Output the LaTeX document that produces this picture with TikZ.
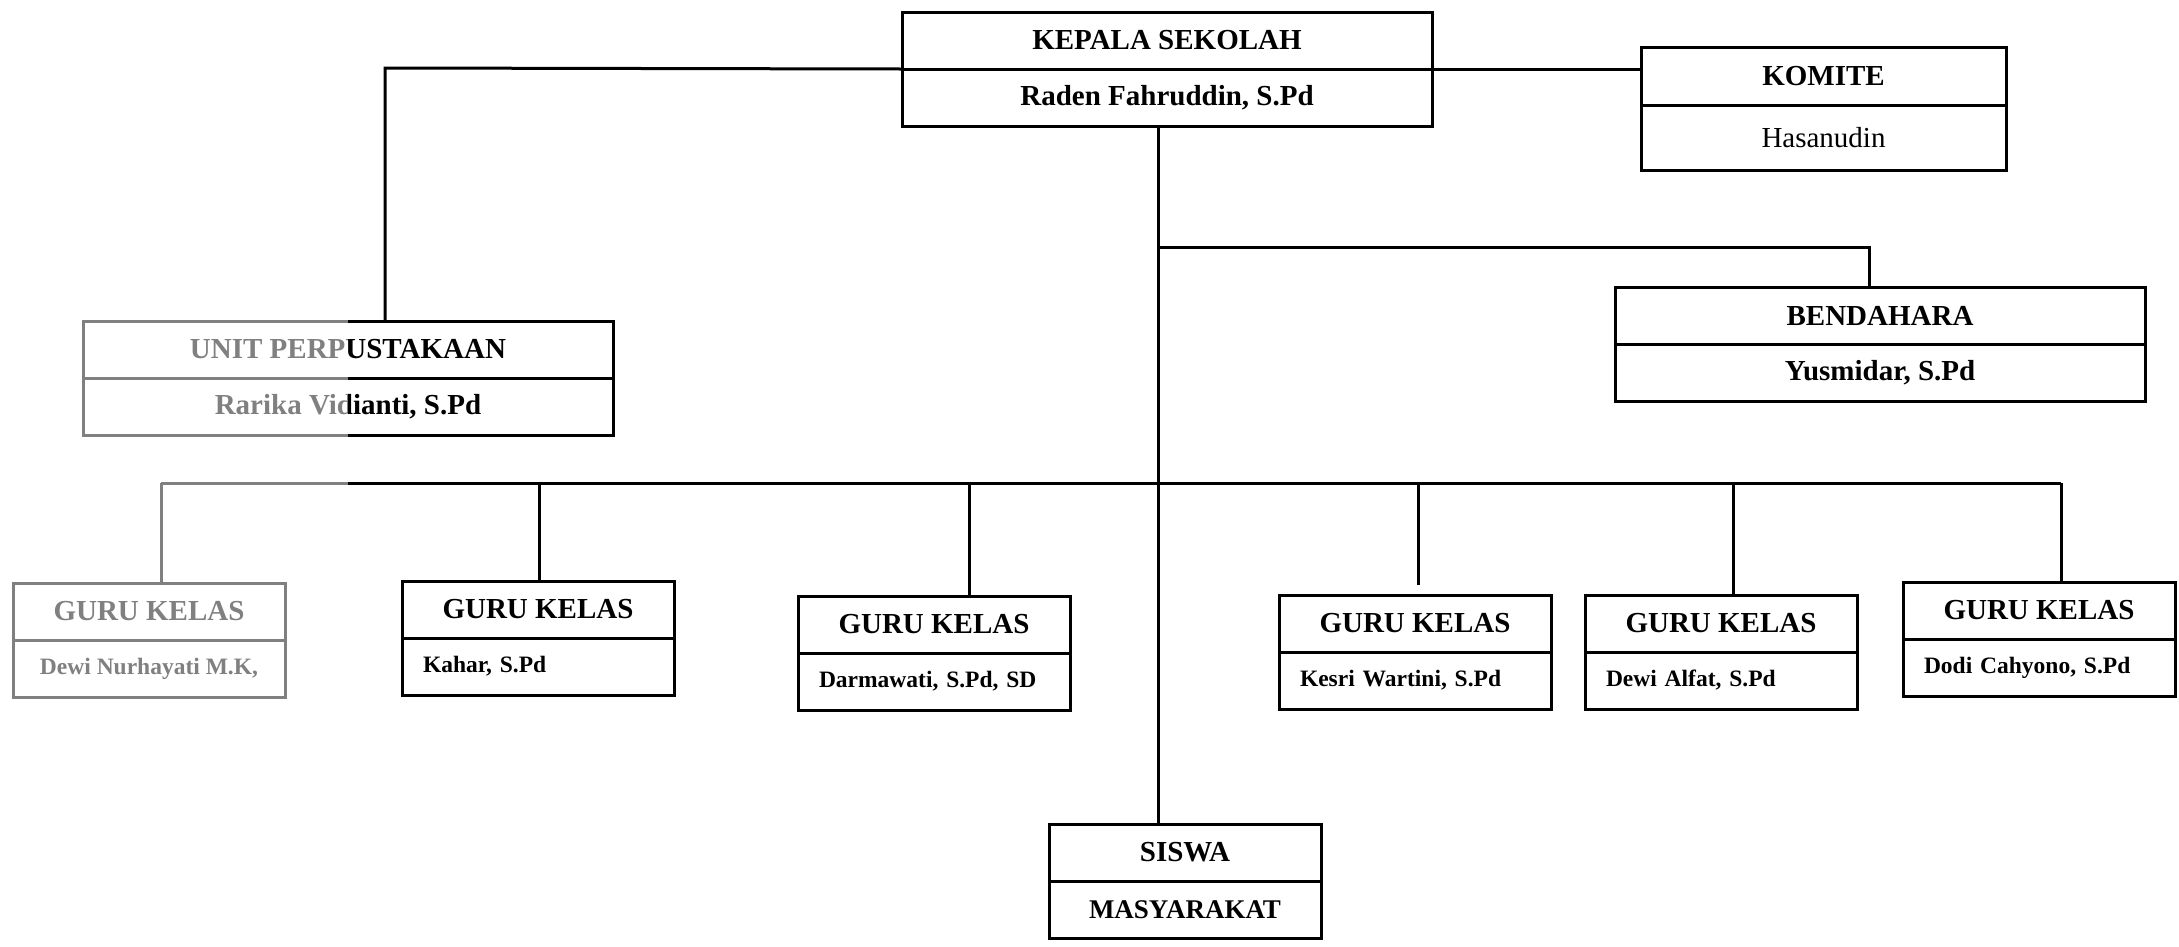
\documentclass[tikz,border=0pt]{standalone}
\usepackage{fontspec}
\setmainfont{Liberation Serif}
\usetikzlibrary{
    positioning     % tikz's library for relative placement of nodes
}
\newcommand{\orgheadfont}{\fontsize{29}{33}\selectfont\bfseries}
\newcommand{\orgsmallfont}{\fontsize{23.5}{27}\selectfont\bfseries}
\tikzset{
    title box/.style={draw, line width=3pt, outer sep=0pt, inner sep=0pt,
        minimum height=57pt, anchor=north west, font=\orgheadfont},
    name box/.style={draw, line width=3pt, outer sep=0pt, inner sep=0pt,
        minimum height=57pt, font=\orgheadfont},
    wide box/.style={minimum width=530pt},
    narrow box/.style={minimum width=272pt},
    guru name/.style={name box, font=\orgsmallfont, align=left,
        text width=230pt, inner xsep=21pt},
    org line/.style={line width=3pt}
}

\begin{document}
\begin{tikzpicture}[x=1pt, y=-1pt]
        \useasboundingbox (0,0) rectangle (2179,946);

        % kepala sekolah
        \node[title box, wide box] (kepala) at (902,12) {KEPALA SEKOLAH};
        \node[name box, wide box, below=0pt of kepala] (kepalaNama) {Raden Fahruddin, S.Pd};

        % komite
        \node[title box, minimum width=365pt, minimum height=58pt] (komite) at (1641,47) {KOMITE};
        \node[name box, minimum width=365pt, minimum height=65pt,
            font=\orgheadfont\mdseries, below=0pt of komite] (komiteNama) {Hasanudin};

        % unit perpustakaan
        \node[title box, wide box] (unit) at (83,321) {UNIT PERPUSTAKAAN};
        \node[name box, wide box, below=0pt of unit] (unitNama) {Rarika Vidianti, S.Pd};

        % bendahara
        \node[title box, wide box] (bendahara) at (1615,287) {BENDAHARA};
        \node[name box, wide box, below=0pt of bendahara] (bendaharaNama) {Yusmidar, S.Pd};

        % guru kelas
        \node[title box, narrow box] (guruA) at (13,583) {GURU KELAS};
        \node[name box, narrow box, font=\orgsmallfont, below=0pt of guruA] (guruANama) {Dewi Nurhayati M.K,};
        \node[title box, narrow box] (guruB) at (402,581) {GURU KELAS};
        \node[guru name, below=0pt of guruB] (guruBNama) {Kahar, S.Pd};
        \node[title box, narrow box] (guruC) at (798,596) {GURU KELAS};
        \node[guru name, below=0pt of guruC] (guruCNama) {Darmawati, S.Pd, SD};
        \node[title box, narrow box] (guruD) at (1279,595) {GURU KELAS};
        \node[guru name, below=0pt of guruD] (guruDNama) {Kesri Wartini, S.Pd};
        \node[title box, narrow box] (guruE) at (1585,595) {GURU KELAS};
        \node[guru name, below=0pt of guruE] (guruENama) {Dewi Alfat, S.Pd};
        \node[title box, narrow box] (guruF) at (1903,582) {GURU KELAS};
        \node[guru name, below=0pt of guruF] (guruFNama) {Dodi Cahyono, S.Pd};

        % siswa / masyarakat
        \node[title box, narrow box] (siswa) at (1049,824) {SISWA};
        \node[name box, narrow box, font=\fontsize{27}{30}\selectfont\bfseries,
            below=0pt of siswa] (masyarakat) {MASYARAKAT};

        % knees of the connecting lines
        \coordinate (trunk) at (1158,0);
        \coordinate (libKnee) at (385,68);
        \coordinate (bendKnee) at (1869,247);
        \coordinate (busA) at (161,483);
        \coordinate (busB) at (539,483);
        \coordinate (busC) at (969,483);
        \coordinate (busD) at (1418,483);
        \coordinate (busE) at (1733,483);
        \coordinate (busF) at (2061,483);

        % connecting lines
        \draw[org line] (kepala.south west) -- (libKnee) -- (libKnee |- unit.north);
        \draw[org line] (kepala.south east) -- (kepala.south east -| komite.west);
        \draw[org line] (trunk |- kepalaNama.south) -- (trunk |- siswa.north);
        \draw[org line] (trunk |- bendKnee) -- (bendKnee) -- (bendKnee |- bendahara.north);
        \draw[org line] (busA) -- (busF);
        \draw[org line] (busA) -- (busA |- guruA.north);
        \draw[org line] (busB) -- (busB |- guruB.north);
        \draw[org line] (busC) -- (busC |- guruC.north);
        \draw[org line, shorten >=10pt] (busD) -- (busD |- guruD.north);
        \draw[org line] (busE) -- (busE |- guruE.north);
        \draw[org line] (busF) -- (busF |- guruF.north);

        % faded left strip of the scan
        \fill[white, opacity=0.5] (0,318) rectangle (348,946);
\end{tikzpicture}
\end{document}
